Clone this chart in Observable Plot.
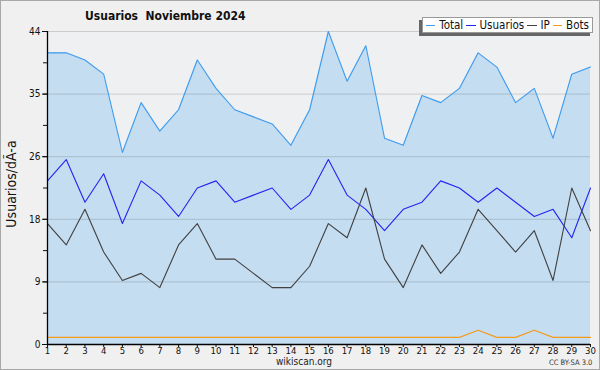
<!DOCTYPE html>
<html>
<head>
<meta charset="utf-8">
<script src="https://cdn.jsdelivr.net/npm/d3@7"></script>
<script src="https://cdn.jsdelivr.net/npm/@observablehq/plot@0.6"></script>
<style>
  html, body { margin: 0; padding: 0; background: #f0f0f0; }
  #wrap { position: relative; width: 600px; height: 370px; background: #f0f0f0; overflow: hidden; font-family: "DejaVu Sans", sans-serif; font-stretch: condensed; }
  #border { position: absolute; left: 0; top: 0; width: 598px; height: 368px; border: 1px solid #a8a8a8; pointer-events: none; }
  #title { position: absolute; left: 85px; top: 9px; font-size: 12px; font-weight: bold; color: #111; white-space: pre; }
  #ylabel { position: absolute; left: 11px; top: 184px; transform: translate(-50%, -50%) rotate(-90deg); font-size: 14px; color: #111; white-space: pre; }
  #legend { position: absolute; left: 422px; top: 17px; width: 166px; height: 14px; background: #fff; border: 1px solid #999; box-shadow: -3px 3px 0 #666; font-size: 11.5px; color: #111; display: flex; align-items: center; padding-left: 3px; }
  #legend span.sw { display: block; width: 12px; height: 0; border-top: 1px solid; margin-right: 4px; }
  #legend span.lb { margin-right: 3px; line-height: 14px; }
  #site { position: absolute; left: 276px; top: 356px; font-size: 10px; line-height: 11px; color: #222; }
  #cc { position: absolute; left: 549px; top: 358px; font-size: 7.5px; line-height: 9px; color: #333; }
  svg { position: absolute; left: 0; top: 0; }
</style>
</head>
<body>
<div id="wrap">
  <div id="chart"></div>
  <div id="title"></div>
  <div id="ylabel"></div>
  <div id="legend"></div>
  <div id="site"></div>
  <div id="cc"></div>
  <div id="border"></div>
</div>
<script>
const titleText = "Usuarios  Noviembre 2024";
const yLabelText = "Usuarios/dÃ-a";
const siteText = "wikiscan.org";
const ccText = "CC BY-SA 3.0";

const days = d3.range(1, 31);
const total    = [41,41,40,38,27,34,30,33,40,36,33,32,31,28,33,44,37,42,29,28,35,34,36,41,39,34,36,29,38,39];
const usuarios = [23,26,20,24,17,23,21,18,22,23,20,21,22,19,21,26,21,19,16,19,20,23,22,20,22,20,18,19,15,22];
const ip       = [17,14,19,13,9,10,8,14,17,12,12,10,8,8,11,17,15,22,12,8,14,10,13,19,16,13,16,9,22,16];
const bots     = [1,1,1,1,1,1,1,1,1,1,1,1,1,1,1,1,1,1,1,1,1,1,1,2,1,1,2,1,1,1];

const yMax = 44;
const majorTicks = d3.range(0, 5.5).map(i => i * yMax / 5);
const minorTicks = d3.range(0, 10.5).map(i => i * yMax / 10);

const seriesNames = ["Total", "Usuarios", "IP", "Bots"];
const seriesColors = ["#3d9bf0", "#2424f0", "#404040", "#f59a1a"];
const seriesValues = [total, usuarios, ip, bots];

const data = days.map((d, i) => ({day: d, total: total[i]}));
const long = seriesNames.flatMap((s, k) => days.map((d, i) => ({day: d, series: s, value: seriesValues[k][i]})));

const chart = Plot.plot({
  width: 600,
  height: 370,
  marginTop: 31,
  marginBottom: 26,
  marginLeft: 47,
  marginRight: 10,
  style: {fontFamily: "DejaVu Sans, sans-serif", fontStretch: "condensed", fontSize: "10px", background: "transparent", color: "#111"},
  x: {domain: [1, 30], label: null},
  y: {domain: [0, yMax], label: null},
  color: {domain: seriesNames, range: seriesColors},
  marks: [
    Plot.frame({fill: "#eff0f2", stroke: null}),
    Plot.areaY(data, {x: "day", y: "total", fill: "#c4ddf1"}),
    Plot.gridY(majorTicks.slice(1), {stroke: "#000", strokeOpacity: 0.15}),
    Plot.line(long, {x: "day", y: "value", z: "series", stroke: "series", strokeWidth: 1.1}),
    Plot.axisY(minorTicks, {tickSize: 4, text: null, stroke: "#111"}),
    Plot.axisY(majorTicks, {tickSize: 5, tickPadding: 2, tickFormat: d => Math.round(d), stroke: "#111"}),
    Plot.axisX(days, {tickSize: 3, tickPadding: 0, fontSize: 9.5, tickFormat: d => d, stroke: "#111"}),
    Plot.ruleY([0], {stroke: "#000", strokeWidth: 1.3}),
    Plot.ruleX([1], {stroke: "#000", strokeWidth: 1.3})
  ]
});
document.getElementById("chart").appendChild(chart);

document.getElementById("title").textContent = titleText;
document.getElementById("ylabel").textContent = yLabelText;
document.getElementById("site").textContent = siteText;
document.getElementById("cc").textContent = ccText;
const leg = document.getElementById("legend");
seriesNames.forEach((s, k) => {
  const sw = document.createElement("span");
  sw.className = "sw";
  sw.style.borderTopColor = seriesColors[k];
  const lb = document.createElement("span");
  lb.className = "lb";
  lb.textContent = s;
  leg.appendChild(sw);
  leg.appendChild(lb);
});
</script>
</body>
</html>
